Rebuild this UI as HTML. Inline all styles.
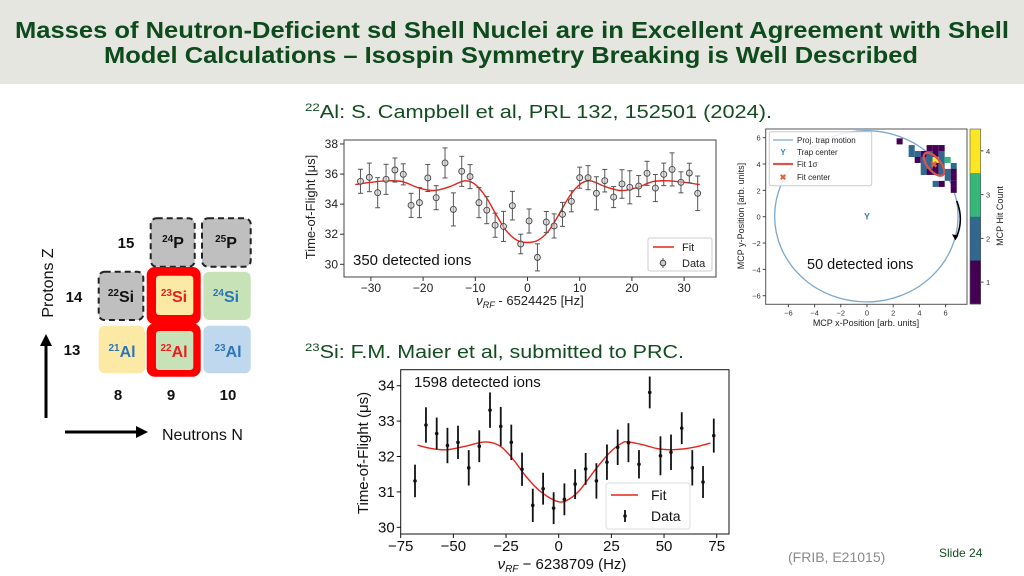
<!DOCTYPE html>
<html><head><meta charset="utf-8"><style>
html,body{margin:0;padding:0;background:#fff;}
svg{display:block;font-family:"Liberation Sans",Arial,sans-serif;}
</style></head><body>
<svg id="s" width="1024" height="576" viewBox="0 0 1024 576" xmlns="http://www.w3.org/2000/svg">
<rect x="0" y="0" width="1024" height="84" fill="#e6e6e0"/>
<text x="512" y="38" text-anchor="middle" font-size="23" font-weight="bold" fill="#0d4a1c" textLength="994" lengthAdjust="spacingAndGlyphs">Masses of Neutron-Deficient sd Shell Nuclei are in Excellent Agreement with Shell</text>
<text x="511" y="63" text-anchor="middle" font-size="23" font-weight="bold" fill="#0d4a1c" textLength="814" lengthAdjust="spacingAndGlyphs">Model Calculations – Isospin Symmetry Breaking is Well Described</text>
<text x="305" y="118" font-size="18" fill="#124d1e" textLength="467" lengthAdjust="spacingAndGlyphs"><tspan font-size="11" dy="-7">22</tspan><tspan dy="7">Al: S. Campbell et al, PRL 132, 152501 (2024).</tspan></text>
<text x="305" y="358" font-size="18" fill="#124d1e" textLength="379" lengthAdjust="spacingAndGlyphs"><tspan font-size="11" dy="-7">23</tspan><tspan dy="7">Si: F.M. Maier et al, submitted to PRC.</tspan></text>
<text x="788" y="562" font-size="14" fill="#8a8a8a">(FRIB, E21015)</text>
<text x="939" y="557" font-size="12" fill="#124d1e">Slide 24</text>

<!-- Nuclide chart -->
<g>
<rect x="150.7" y="218.3" width="44" height="48.4" rx="6" fill="#bfbfbf" stroke="#222" stroke-width="2" stroke-dasharray="6,4"/>
<rect x="202" y="218.3" width="48.7" height="48.4" rx="6" fill="#bfbfbf" stroke="#222" stroke-width="2" stroke-dasharray="6,4"/>
<rect x="98.7" y="271.7" width="44.6" height="48.3" rx="6" fill="#bfbfbf" stroke="#222" stroke-width="2" stroke-dasharray="6,4"/>
<rect x="146.7" y="267" width="54" height="57.3" rx="8" fill="#ff0000"/>
<rect x="156" y="275.7" width="37.3" height="39.3" rx="3" fill="#fde9a6"/>
<rect x="203.3" y="271.7" width="47.4" height="48.3" rx="6" fill="#c7e2b6"/>
<rect x="98.7" y="325.7" width="46.3" height="47.6" rx="6" fill="#fde9a6"/>
<rect x="146.7" y="323.3" width="54" height="53.4" rx="8" fill="#ff0000"/>
<rect x="156" y="331" width="37.3" height="39" rx="3" fill="#c7e2b6"/>
<rect x="203.3" y="325.7" width="47.4" height="47.6" rx="6" fill="#bfd8ee"/>
<g font-weight="bold" font-size="16" text-anchor="middle">
<text x="173" y="248" fill="#111"><tspan font-size="10" dy="-6">24</tspan><tspan dy="6">P</tspan></text>
<text x="226" y="248" fill="#111"><tspan font-size="10" dy="-6">25</tspan><tspan dy="6">P</tspan></text>
<text x="121" y="302" fill="#111"><tspan font-size="10" dy="-6">22</tspan><tspan dy="6">Si</tspan></text>
<text x="174" y="302" fill="#e8201c"><tspan font-size="10" dy="-6">23</tspan><tspan dy="6">Si</tspan></text>
<text x="226" y="302" fill="#2e75b6"><tspan font-size="10" dy="-6">24</tspan><tspan dy="6">Si</tspan></text>
<text x="122" y="357" fill="#2e75b6"><tspan font-size="10" dy="-6">21</tspan><tspan dy="6">Al</tspan></text>
<text x="174" y="357" fill="#e8201c"><tspan font-size="10" dy="-6">22</tspan><tspan dy="6">Al</tspan></text>
<text x="228" y="357" fill="#2e75b6"><tspan font-size="10" dy="-6">23</tspan><tspan dy="6">Al</tspan></text>
</g>
<g font-weight="bold" font-size="15" fill="#111" text-anchor="middle">
<text x="126" y="248">15</text>
<text x="74" y="302">14</text>
<text x="72" y="355">13</text>
<text x="118" y="400">8</text>
<text x="171" y="400">9</text>
<text x="228" y="400">10</text>
</g>
<text transform="translate(53,283) rotate(-90)" text-anchor="middle" font-size="16" fill="#111">Protons Z</text>
<line x1="46" y1="418" x2="46" y2="344" stroke="#000" stroke-width="3"/>
<polygon points="46,334 40,346 52,346" fill="#000"/>
<line x1="65" y1="432" x2="138" y2="432" stroke="#000" stroke-width="3"/>
<polygon points="148,432 136,426 136,438" fill="#000"/>
<text x="162" y="440" font-size="16" fill="#111">Neutrons N</text>
</g>

<g id="top"></g>
<g id="bot"></g>
<g id="mcp"></g>
</svg>
<script>
// ---- top chart (22Al) data ----
const topFreq = [-32.0,-30.3,-28.7,-27.1,-25.4,-23.8,-22.3,-20.7,-19.1,-17.5,-15.8,-14.2,-12.6,-11.0,-9.3,-7.8,-6.2,-4.6,-2.9,-1.3,0.3,1.9,3.6,5.1,6.7,8.4,10.0,11.6,13.2,14.8,16.5,18.1,19.6,21.3,22.9,24.5,26.1,27.7,29.4,31.0,32.6];
const topTof = [35.52,35.78,34.76,35.65,36.27,35.98,33.92,34.1,35.74,34.43,36.74,33.65,36.18,35.83,34.1,33.6,32.6,32.52,33.9,31.35,32.88,30.46,32.81,32.55,33.32,34.19,35.76,35.76,34.72,35.56,34.47,35.34,35.12,35.2,36.05,35.07,35.98,36.31,35.45,36.07,34.72];
const topErr = [0.8,0.95,1.0,1.0,0.8,0.7,0.8,1.0,0.9,0.8,1.0,1.1,1.0,0.8,1.0,0.9,0.8,1.0,0.95,0.65,0.8,0.9,0.7,0.8,0.8,0.7,0.7,0.8,1.1,0.75,0.7,0.95,1.1,0.7,0.8,0.9,0.75,1.1,0.7,0.65,1.15];
const topFitFreq = [-33,-30,-27,-24,-21,-18,-15,-12,-10,-8,-6,-4,-2,0,2,4,6,8,10,12,15,18,21,24,27,30,33];
const topFitTof = [35.3,35.45,35.55,35.5,35.1,34.9,35.15,35.55,35.3,34.5,33.3,32.2,31.6,31.45,31.6,32.2,33.3,34.5,35.3,35.55,35.15,34.9,35.1,35.5,35.55,35.45,35.3];
const topXTicks = [-30,-20,-10,0,10,20,30];
const topYTicks = [30,32,34,36,38];
// ---- bottom chart (23Si) data ----
const botFreq = [-68.2,-63.0,-57.9,-52.8,-47.8,-42.7,-37.7,-32.6,-27.5,-22.5,-17.4,-12.3,-7.4,-2.4,2.7,7.8,12.8,17.9,22.9,28.0,33.1,38.1,43.2,48.3,53.3,58.4,63.4,68.5,73.6];
const botTof = [31.31,32.89,32.65,32.31,32.4,31.68,32.29,33.31,32.85,32.4,31.64,30.62,31.09,30.54,30.79,31.22,31.65,31.31,31.84,32.26,32.39,31.78,33.81,32.02,32.12,32.8,31.68,31.28,32.59];
const botErr = [0.46,0.5,0.45,0.5,0.47,0.5,0.45,0.5,0.55,0.5,0.47,0.47,0.45,0.45,0.45,0.42,0.45,0.5,0.5,0.5,0.55,0.4,0.45,0.55,0.5,0.45,0.5,0.45,0.48];
const botFitFreq = [-67,-60,-53,-45,-35,-28,-22,-15,-8,0,5,10,17,24,30,33,40,47,53,60,67,72];
const botFitTof = [32.32,32.22,32.19,32.28,32.41,32.3,31.95,31.4,30.98,30.72,30.8,31.05,31.6,32.1,32.38,32.41,32.33,32.22,32.19,32.22,32.3,32.38];
const botXTicks = [-75,-50,-25,0,25,50,75];
const botYTicks = [30,31,32,33,34];
// ---- MCP hit map data ----
const cellX = [2.26,3.18,4.55,5.01,5.47,3.18,3.64,4.10,4.55,5.01,5.47,3.64,4.10,4.55,5.01,5.47,5.93,4.10,4.55,5.01,5.47,6.39,4.10,4.55,5.01,5.47,5.93,6.39,5.93,6.39,5.01,5.47,6.39,6.39];
const cellY = [5.95,5.44,5.44,5.44,5.44,4.99,4.99,4.99,4.99,4.99,4.99,4.54,4.54,4.54,4.54,4.54,4.54,4.08,4.08,4.08,4.08,4.08,3.63,3.63,3.63,3.63,3.63,3.63,3.18,3.18,2.72,2.72,2.72,2.27];
const cellCount = [1,2,1,1,1,2,2,1,2,1,2,1,2,2,4,2,3,2,2,1,2,2,2,1,1,2,2,1,2,1,2,1,1,1];
const mcpXTicks = [-6,-4,-2,0,2,4,6];
const mcpYTicks = [-6,-4,-2,0,2,4,6];
const cbTicks = [1,2,3,4];

const NS='http://www.w3.org/2000/svg';
function mk(tag, parent, a){const e=document.createElementNS(NS,tag);for(const k in a)e.setAttribute(k,a[k]);parent.appendChild(e);return e;}
function smooth(pts){let d='M'+pts[0][0]+','+pts[0][1];for(let i=0;i<pts.length-1;i++){const p0=pts[Math.max(0,i-1)],p1=pts[i],p2=pts[i+1],p3=pts[Math.min(pts.length-1,i+2)];d+=' C'+(p1[0]+(p2[0]-p0[0])/6)+','+(p1[1]+(p2[1]-p0[1])/6)+' '+(p2[0]-(p3[0]-p1[0])/6)+','+(p2[1]-(p3[1]-p1[1])/6)+' '+p2[0]+','+p2[1];}return d;}

// ===== top chart =====
(function(){
const g=document.getElementById('top');
const xT=v=>527.5+v*5.22, yT=v=>264.3-(v-30)*15.04;
const L=344,R=716,T=140,B=277;
let e;
e=mk('rect',g,{x:L,y:T,width:R-L,height:B-T,fill:'#fff',stroke:'#444','stroke-width':1});


topXTicks.forEach(v=>{mk('line',g,{x1:xT(v),x2:xT(v),y1:B,y2:B+4,stroke:'#333'});
 e=mk('text',g,{x:xT(v),y:B+15,'text-anchor':'middle','font-size':12,fill:'#222'});e.textContent=(v<0?'\u2212':'')+Math.abs(v);
 
 });
topYTicks.forEach(v=>{mk('line',g,{x1:L-4,x2:L,y1:yT(v),y2:yT(v),stroke:'#333'});
 e=mk('text',g,{x:L-6,y:yT(v)+4,'text-anchor':'end','font-size':12,fill:'#222'});e.textContent=v;
 
 });
e=mk('text',g,{transform:'translate(315,207) rotate(-90)','text-anchor':'middle','font-size':13,fill:'#222'});e.textContent='Time-of-Flight [\u03bcs]';


e=mk('text',g,{x:530,y:305,'text-anchor':'middle','font-size':13,fill:'#222'});e.innerHTML='<tspan font-style="italic">\u03bd</tspan><tspan font-size="9" dy="3" font-style="italic">RF</tspan><tspan dy="-3"> - 6524425 [Hz]</tspan>';


e=mk('path',g,{d:smooth(topFitFreq.map((f,i)=>[xT(f),yT(topFitTof[i])])),fill:'none',stroke:'#e8231c','stroke-width':1.4});


topFreq.forEach((f,i)=>{const x=xT(f),y0=yT(topTof[i]-topErr[i]),y1=yT(topTof[i]+topErr[i]);
 const p=mk('g',g,{});
 
 
 mk('line',p,{x1:x,x2:x,y1:y0,y2:y1,stroke:'#555','stroke-width':1});
 mk('line',p,{x1:x-2.5,x2:x+2.5,y1:y0,y2:y0,stroke:'#555'});
 mk('line',p,{x1:x-2.5,x2:x+2.5,y1:y1,y2:y1,stroke:'#555'});
 mk('circle',p,{cx:x,cy:yT(topTof[i]),r:3,fill:'#ccc','fill-opacity':0.6,stroke:'#444','stroke-width':0.9});});
const lg=mk('g',g,{});


mk('rect',lg,{x:648,y:238,width:64,height:33,rx:2,fill:'#fff',stroke:'#ccc'});
mk('line',lg,{x1:653,x2:674,y1:247,y2:247,stroke:'#e8231c','stroke-width':1.4});
e=mk('text',lg,{x:682,y:251,'font-size':11,fill:'#222'});e.textContent='Fit';
mk('line',lg,{x1:663,x2:663,y1:258,y2:268,stroke:'#555'});
mk('circle',lg,{cx:663,cy:263,r:2.8,fill:'#ccc',stroke:'#444'});
e=mk('text',lg,{x:682,y:267,'font-size':11,fill:'#222'});e.textContent='Data';
e=mk('text',g,{x:353,y:265,'font-size':15,fill:'#111'});e.textContent='350 detected ions';


})();

// ===== bottom chart =====
(function(){
const g=document.getElementById('bot');
const xB=v=>558.7+v*2.107, yB=v=>527.3-(v-30)*35.4;
const L=400.7,R=729,T=369.7,B=534;
let e;
e=mk('rect',g,{x:L,y:T,width:R-L,height:B-T,fill:'#fff',stroke:'#111','stroke-width':1});


botXTicks.forEach(v=>{mk('line',g,{x1:xB(v),x2:xB(v),y1:B,y2:B+4,stroke:'#111'});
 e=mk('text',g,{x:xB(v),y:B+17,'text-anchor':'middle','font-size':15,fill:'#111'});e.textContent=(v<0?'\u2212':'')+Math.abs(v);
 
 });
botYTicks.forEach(v=>{mk('line',g,{x1:L-4,x2:L,y1:yB(v),y2:yB(v),stroke:'#111'});
 e=mk('text',g,{x:L-6,y:yB(v)+5,'text-anchor':'end','font-size':15,fill:'#111'});e.textContent=v;
 
 });
e=mk('text',g,{transform:'translate(368,453) rotate(-90)','text-anchor':'middle','font-size':15,fill:'#111'});e.textContent='Time-of-Flight (\u03bcs)';


e=mk('text',g,{x:562,y:569,'text-anchor':'middle','font-size':15,fill:'#111'});e.innerHTML='<tspan font-style="italic">\u03bd</tspan><tspan font-size="10" dy="3" font-style="italic">RF</tspan><tspan dy="-3"> \u2212 6238709 (Hz)</tspan>';


e=mk('path',g,{d:smooth(botFitFreq.map((f,i)=>[xB(f),yB(botFitTof[i])])),fill:'none',stroke:'#e8231c','stroke-width':1.4});


botFreq.forEach((f,i)=>{const x=xB(f);
 const p=mk('g',g,{});
 
 
 mk('line',p,{x1:x,x2:x,y1:yB(botTof[i]-botErr[i]),y2:yB(botTof[i]+botErr[i]),stroke:'#111','stroke-width':1.8});
 mk('circle',p,{cx:x,cy:yB(botTof[i]),r:1.8,fill:'#111'});});
const lg=mk('g',g,{});


mk('rect',lg,{x:606,y:483,width:84,height:46,rx:3,fill:'#fff',stroke:'#ddd'});
mk('line',lg,{x1:611,x2:638,y1:495,y2:495,stroke:'#e8231c','stroke-width':1.6});
e=mk('text',lg,{x:651,y:500,'font-size':14,fill:'#111'});e.textContent='Fit';
mk('line',lg,{x1:625,x2:625,y1:510,y2:522,stroke:'#111','stroke-width':1.8});
mk('circle',lg,{cx:625,cy:516,r:1.8,fill:'#111'});
e=mk('text',lg,{x:651,y:521,'font-size':14,fill:'#111'});e.textContent='Data';
e=mk('text',g,{x:414,y:387,'font-size':15,fill:'#111'});e.textContent='1598 detected ions';


})();

// ===== MCP chart =====
(function(){
const g=document.getElementById('mcp');
const xR=v=>867+v*13.1, yR=v=>216.7-v*13.17;
const L=765.7,R=967,T=129,B=304.3;
const cmap={1:'#440154',2:'#31688e',3:'#35b779',4:'#fde725'};
let e;
e=mk('rect',g,{x:L,y:T,width:R-L,height:B-T,fill:'#fff',stroke:'#555'});


mcpXTicks.forEach(v=>{mk('line',g,{x1:xR(v),x2:xR(v),y1:B,y2:B+3,stroke:'#444'});
 e=mk('text',g,{x:xR(v),y:B+11,'text-anchor':'middle','font-size':7.5,fill:'#333'});e.textContent=(v<0?'\u2212':'')+Math.abs(v);
 
 });
mcpYTicks.forEach(v=>{mk('line',g,{x1:L-3,x2:L,y1:yR(v),y2:yR(v),stroke:'#444'});
 e=mk('text',g,{x:L-5,y:yR(v)+3,'text-anchor':'end','font-size':7.5,fill:'#333'});e.textContent=(v<0?'\u2212':'')+Math.abs(v);
 
 });
e=mk('text',g,{transform:'translate(744,216) rotate(-90)','text-anchor':'middle','font-size':9,fill:'#222'});e.textContent='MCP y-Position [arb. units]';


e=mk('text',g,{x:866,y:326,'text-anchor':'middle','font-size':9,fill:'#222'});e.textContent='MCP x-Position [arb. units]';


e=mk('ellipse',g,{cx:xR(-0.05),cy:yR(0.03),rx:7.0*13.1,ry:6.5*13.17,fill:'none',stroke:'#7ba7cc','stroke-width':1.3});


cellX.forEach((cx,i)=>{e=mk('rect',g,{x:xR(cx),y:yR(cellY[i]),width:0.46*13.1,height:0.46*13.17,fill:cmap[cellCount[i]]});
 
 });
e=mk('ellipse',g,{cx:xR(5.11),cy:yR(3.98),rx:14,ry:6.5,transform:'rotate(50 '+xR(5.11)+' '+yR(3.98)+')',fill:'none',stroke:'#d9534f','stroke-width':2.2});


e=mk('text',g,{x:xR(5.11),y:yR(3.98)+3,'text-anchor':'middle','font-size':9,'font-weight':'bold',fill:'#e06040'});e.textContent='\u2716';


e=mk('text',g,{x:xR(0),y:yR(0)+3,'text-anchor':'middle','font-size':9,'font-weight':'bold',fill:'#3a7dbf'});e.textContent='Y';


e=mk('path',g,{d:'M'+xR(6.85)+','+yR(1.2)+' Q'+xR(7.4)+','+yR(-0.2)+' '+xR(6.85)+','+yR(-1.5),fill:'none',stroke:'#000','stroke-width':1.6});


mk('polygon',g,{points:(xR(6.75))+','+yR(-1.8)+' '+(xR(6.75)-3.5)+','+(yR(-1.8)-6)+' '+(xR(6.75)+3)+','+(yR(-1.8)-5),fill:'#000'});
// legend
const lg=mk('g',g,{});


mk('rect',lg,{x:769.3,y:131.7,width:102.4,height:54,rx:2,fill:'#fff','fill-opacity':0.85,stroke:'#ccc'});
mk('line',lg,{x1:773,x2:793,y1:140,y2:140,stroke:'#7ba7cc','stroke-width':1.3});
e=mk('text',lg,{x:797,y:143,'font-size':8,fill:'#222'});e.textContent='Proj. trap motion';
e=mk('text',lg,{x:783,y:155,'text-anchor':'middle','font-size':8,'font-weight':'bold',fill:'#3a7dbf'});e.textContent='Y';
e=mk('text',lg,{x:797,y:155,'font-size':8,fill:'#222'});e.textContent='Trap center';
mk('line',lg,{x1:773,x2:793,y1:164,y2:164,stroke:'#d9534f','stroke-width':2.2});
e=mk('text',lg,{x:797,y:167,'font-size':8,fill:'#222'});e.textContent='Fit 1\u03c3';
e=mk('text',lg,{x:783,y:180,'text-anchor':'middle','font-size':8,'font-weight':'bold',fill:'#e06040'});e.textContent='\u2716';
e=mk('text',lg,{x:797,y:180,'font-size':8,fill:'#222'});e.textContent='Fit center';
e=mk('text',g,{x:807,y:269,'font-size':14.5,fill:'#111'});e.textContent='50 detected ions';


// colorbar
const cb=mk('g',g,{});


const cbT=129,cbB=304,h=(cbB-cbT)/4;
cbTicks.forEach((v,i)=>{mk('rect',cb,{x:970,y:cbB-(i+1)*h,width:10.7,height:h+0.3,fill:cmap[v]});
 const ty=cbB-(i+0.5)*h;mk('line',cb,{x1:980.7,x2:983.5,y1:ty,y2:ty,stroke:'#444'});
 e=mk('text',cb,{x:986,y:ty+3,'font-size':7.5,fill:'#333'});e.textContent=v;});
mk('rect',cb,{x:970,y:cbT,width:10.7,height:cbB-cbT,fill:'none',stroke:'#555','stroke-width':0.6});
e=mk('text',cb,{transform:'translate(1003,216) rotate(-90)','text-anchor':'middle','font-size':9,fill:'#222'});e.textContent='MCP Hit Count';
})();
</script>
</body></html>
